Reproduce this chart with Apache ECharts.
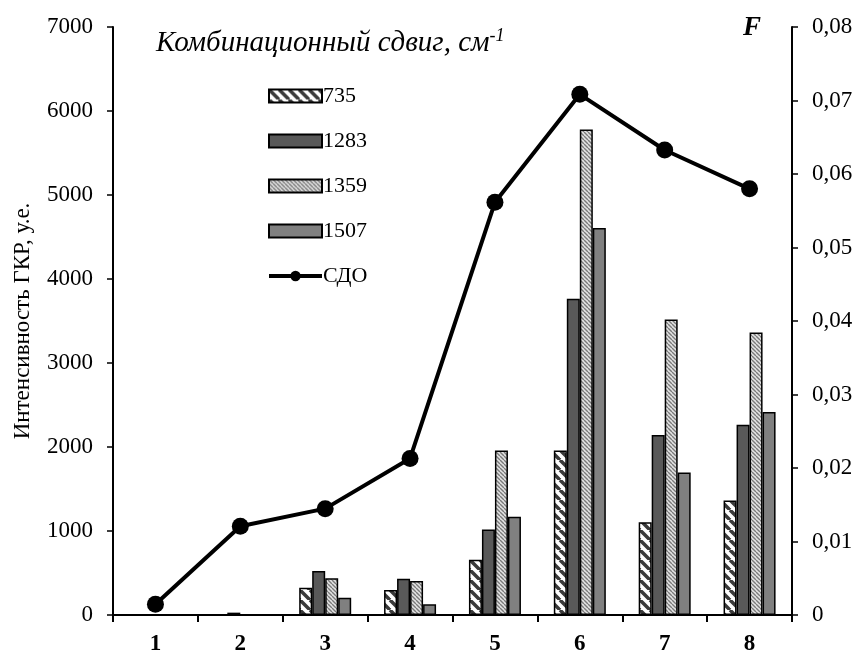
<!DOCTYPE html>
<html>
<head>
<meta charset="utf-8">
<script src="https://cdn.jsdelivr.net/npm/echarts@6/dist/echarts.min.js"></script>
<style>html,body{margin:0;padding:0;background:#fff}#c{width:857px;height:660px}</style>
</head>
<body>
<div id="c"></div>
<script>
const categories = ['1','2','3','4','5','6','7','8'];
const s735  = [6, 4, 325, 298, 658, 1957, 1104, 1364];
const s1283 = [8, 28, 524, 432, 1017, 3766, 2143, 2264];
const s1359 = [6, 5, 437, 405, 1957, 5779, 3519, 3364];
const s1507 = [6, 5, 206, 127, 1169, 4606, 1697, 2416];
const sdo   = [0.00146, 0.01207, 0.01447, 0.0213, 0.05615, 0.07084, 0.06327, 0.05798];
const leftTicks = [0, 1000, 2000, 3000, 4000, 5000, 6000, 7000];
const rightTicks = ['0','0,01','0,02','0,03','0,04','0,05','0,06','0,07','0,08'];

function stripes(bg, fg, period, lw) {
  const c = document.createElement('canvas');
  c.width = period; c.height = period;
  const ctx = c.getContext('2d');
  ctx.fillStyle = bg; ctx.fillRect(0, 0, period, period);
  ctx.strokeStyle = fg; ctx.lineWidth = lw;
  for (const x0 of [-period, 0, period]) {
    ctx.beginPath(); ctx.moveTo(x0, 0); ctx.lineTo(x0 + period, period); ctx.stroke();
  }
  return c;
}
const pat735 = { image: stripes('#ffffff', '#3a3a3a', 10, 3.5), repeat: 'repeat' };
const pat1359 = { image: stripes('#e4e4e4', '#7a7a7a', 4, 1.4), repeat: 'repeat' };

const font = 'Liberation Serif';
const chart = echarts.init(document.getElementById('c'), null, { renderer: 'canvas' });
const barBase = { type: 'bar', barWidth: 13, barGap: '0%', yAxisIndex: 0 };
const border = { borderColor: '#000', borderWidth: 1.5 };

chart.setOption({
  animation: false,
  textStyle: { fontFamily: font, color: '#000' },
  title: {
    text: 'Комбинационный сдвиг, см{sup|-1}',
    left: 151, top: 22,
    textStyle: {
      fontFamily: font, fontStyle: 'italic', fontWeight: 'normal', fontSize: 29, color: '#000',
      rich: { sup: { fontFamily: font, fontStyle: 'italic', fontSize: 18, verticalAlign: 'top', padding: [0, 0, 14, 0], color: '#000' } }
    }
  },
  graphic: [{
    type: 'text', left: 743, top: 15,
    style: { text: 'F', font: 'italic bold 27px "Liberation Serif"', fill: '#000' }
  }],
  legend: {
    orient: 'vertical', left: 262, top: 80,
    itemWidth: 53, itemHeight: 13, itemGap: 23,
    textStyle: { fontFamily: font, fontSize: 22, color: '#000', padding: [0, 0, 0, -4] },
    data: [
      { name: '735', icon: 'rect' },
      { name: '1283', icon: 'rect' },
      { name: '1359', icon: 'rect' },
      { name: '1507', icon: 'rect' },
      { name: 'СДО', lineStyle: { width: 4, color: '#000' }, itemStyle: { color: '#000' } }
    ]
  },
  grid: { left: 113, right: 65, top: 27, bottom: 45 },
  xAxis: {
    type: 'category', data: categories,
    axisLine: { lineStyle: { color: '#000', width: 2 } },
    axisTick: { show: true, inside: false, length: 7, lineStyle: { color: '#000', width: 2 } },
    axisLabel: { fontFamily: font, fontWeight: 'bold', fontSize: 23, color: '#000', margin: 18 }
  },
  yAxis: [{
    type: 'value', min: 0, max: 7000, interval: 1000,
    name: 'Интенсивность ГКР, у.е.', nameLocation: 'middle', nameGap: 79,
    nameTextStyle: { fontFamily: font, fontSize: 23, color: '#000' },
    axisLine: { show: true, lineStyle: { color: '#000', width: 2 } },
    axisTick: { show: true, length: 6, lineStyle: { color: '#000', width: 1.5 } },
    axisLabel: { fontFamily: font, fontSize: 23, color: '#000', margin: 20,
      formatter: v => leftTicks.includes(v) ? String(v) : '' },
    splitLine: { show: false }
  }, {
    type: 'value', min: 0, max: 0.08, interval: 0.01, position: 'right',
    axisLine: { show: true, lineStyle: { color: '#000', width: 2 } },
    axisTick: { show: true, length: 6, lineStyle: { color: '#000', width: 1.5 } },
    axisLabel: { fontFamily: font, fontSize: 23, color: '#000', margin: 20,
      formatter: v => rightTicks[Math.round(v * 100)] },
    splitLine: { show: false }
  }],
  series: [
    Object.assign({}, barBase, { name: '735', data: s735, itemStyle: Object.assign({ color: pat735 }, border) }),
    Object.assign({}, barBase, { name: '1283', data: s1283, itemStyle: Object.assign({ color: '#595959' }, border) }),
    Object.assign({}, barBase, { name: '1359', data: s1359, itemStyle: Object.assign({ color: pat1359 }, border) }),
    Object.assign({}, barBase, { name: '1507', data: s1507, itemStyle: Object.assign({ color: '#808080' }, border) }),
    {
      type: 'line', name: 'СДО', data: sdo, yAxisIndex: 1, z: 5,
      symbol: 'circle', symbolSize: 17,
      lineStyle: { color: '#000', width: 4 },
      itemStyle: { color: '#000' }
    }
  ]
});
</script>
</body>
</html>
